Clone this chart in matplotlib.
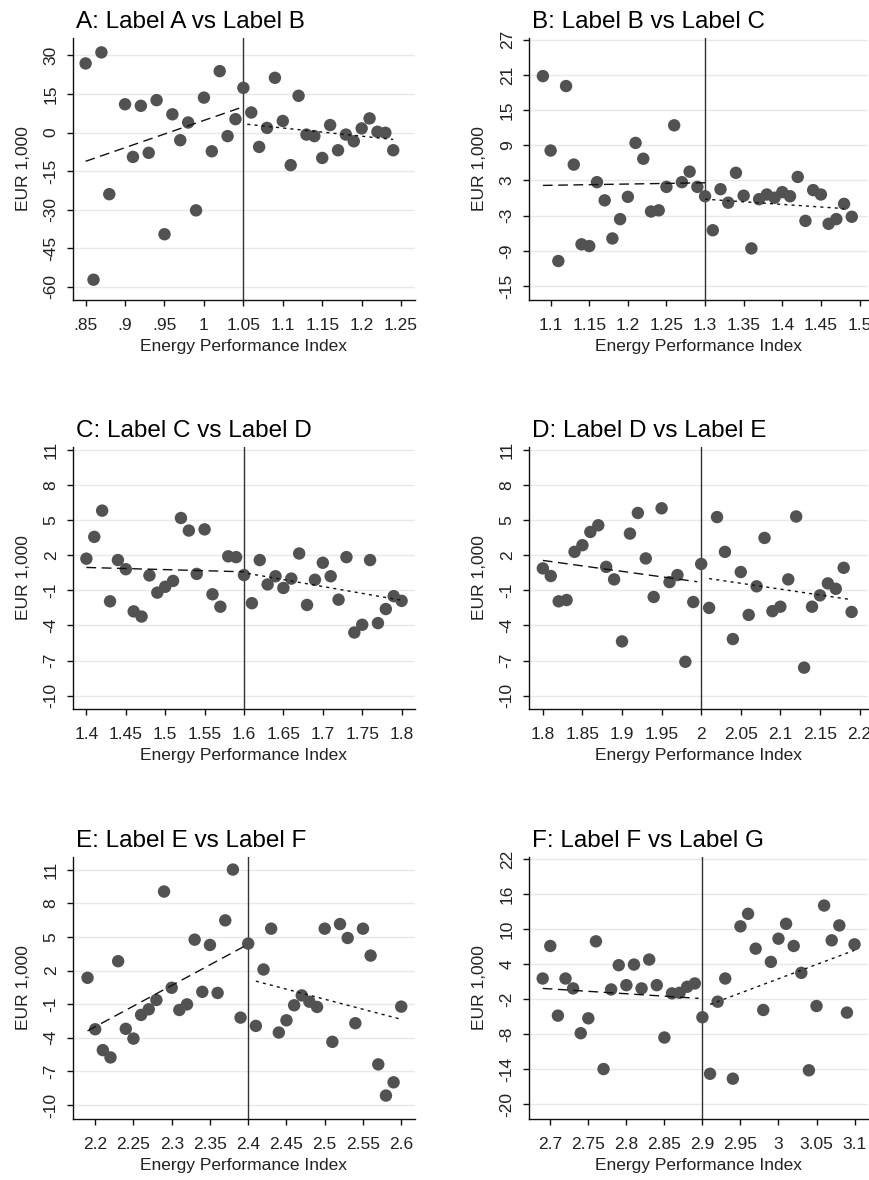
import numpy as np
import matplotlib
matplotlib.use("Agg")
import matplotlib.pyplot as plt

plt.rcParams['font.family'] = ['Liberation Sans', 'DejaVu Sans']

# ---------------- data ----------------
titles = ["A: Label A vs Label B", "B: Label B vs Label C", "C: Label C vs Label D",
          "D: Label D vs Label E", "E: Label E vs Label F", "F: Label F vs Label G"]
cutoffs = [1.05, 1.30, 1.60, 2.00, 2.40, 2.90]

# Panel A (no bin at 0.89)
xA = [0.85, 0.86, 0.87, 0.88, 0.90, 0.91, 0.92, 0.93, 0.94, 0.95, 0.96, 0.97, 0.98, 0.99,
      1.00, 1.01, 1.02, 1.03, 1.04, 1.05, 1.06, 1.07, 1.08, 1.09, 1.10, 1.11, 1.12, 1.13,
      1.14, 1.15, 1.16, 1.17, 1.18, 1.19, 1.20, 1.21, 1.22, 1.23, 1.24]
yA = [26.9, -57.3, 31.2, -24.0, 11.0, -9.5, 10.4, -7.9, 12.6, -39.6, 7.1, -3.0, 3.9, -30.3,
      13.6, -7.3, 23.9, -1.4, 5.2, 17.4, 7.8, -5.6, 1.8, 21.3, 4.5, -12.7, 14.3, -0.8,
      -1.4, -9.9, 2.9, -6.9, -0.8, -3.4, 1.6, 5.5, 0.3, -0.1, -6.9]

xB = [1.09, 1.10, 1.11, 1.12, 1.13, 1.14, 1.15, 1.16, 1.17, 1.18, 1.19, 1.20, 1.21, 1.22,
      1.23, 1.24, 1.25, 1.26, 1.27, 1.28, 1.29, 1.30, 1.31, 1.32, 1.33, 1.34, 1.35, 1.36,
      1.37, 1.38, 1.39, 1.40, 1.41, 1.42, 1.43, 1.44, 1.45, 1.46, 1.47, 1.48, 1.49]
yB = [20.8, 8.1, -10.75, 19.1, 5.7, -7.9, -8.2, 2.7, -0.4, -6.9, -3.6, 0.2, 9.4, 6.7,
      -2.3, -2.1, 1.9, 12.4, 2.7, 4.5, 1.9, 0.3, -5.5, 1.5, -0.8, 4.3, 0.4, -8.6,
      -0.2, 0.6, 0.05, 1.0, 0.3, 3.6, -3.9, 1.35, 0.6, -4.4, -3.6, -1.0, -3.2]

xC = [1.40, 1.41, 1.42, 1.43, 1.44, 1.45, 1.46, 1.47, 1.48, 1.49, 1.50, 1.51, 1.52, 1.53,
      1.54, 1.55, 1.56, 1.57, 1.58, 1.59, 1.60, 1.61, 1.62, 1.63, 1.64, 1.65, 1.66, 1.67,
      1.68, 1.69, 1.70, 1.71, 1.72, 1.73, 1.74, 1.75, 1.76, 1.77, 1.78, 1.79, 1.80]
yC = [1.7, 3.56, 5.8, -1.94, 1.58, 0.8, -2.8, -3.24, 0.27, -1.2, -0.7, -0.2, 5.17, 4.1,
      0.4, 4.2, -1.34, -2.4, 1.9, 1.83, 0.3, -2.1, 1.58, -0.5, 0.2, -0.8, 0.0, 2.14,
      -2.25, -0.1, 1.35, 0.2, -1.8, 1.83, -4.6, -3.94, 1.58, -3.8, -2.6, -1.5, -1.9]

xD = [1.80, 1.81, 1.82, 1.83, 1.84, 1.85, 1.86, 1.87, 1.88, 1.89, 1.90, 1.91, 1.92, 1.93,
      1.94, 1.95, 1.96, 1.97, 1.98, 1.99, 2.00, 2.01, 2.02, 2.03, 2.04, 2.05, 2.06, 2.07,
      2.08, 2.09, 2.10, 2.11, 2.12, 2.13, 2.14, 2.15, 2.16, 2.17, 2.18, 2.19]
yD = [0.87, 0.22, -1.94, -1.83, 2.28, 2.85, 3.98, 4.55, 1.0, -0.07, -5.36, 3.84, 5.6, 1.72,
      -1.57, 6.0, -0.3, 0.3, -7.1, -2.0, 1.25, -2.5, 5.25, 2.28, -5.16, 0.56, -3.1, -0.66,
      3.47, -2.78, -2.4, -0.07, 5.3, -7.6, -2.4, -1.43, -0.41, -0.87, 0.92, -2.85]

xE = [2.19, 2.20, 2.21, 2.22, 2.23, 2.24, 2.25, 2.26, 2.27, 2.28, 2.29, 2.30, 2.31, 2.32,
      2.33, 2.34, 2.35, 2.36, 2.37, 2.38, 2.39, 2.40, 2.41, 2.42, 2.43, 2.44, 2.45, 2.46,
      2.47, 2.48, 2.49, 2.50, 2.51, 2.52, 2.53, 2.54, 2.55, 2.56, 2.57, 2.58, 2.59, 2.60]
yE = [1.35, -3.24, -5.1, -5.75, 2.83, -3.2, -4.07, -1.96, -1.46, -0.63, 9.04, 0.46, -1.52, -1.02,
      4.75, 0.1, 4.28, 0.0, 6.47, 11.0, -2.2, 4.4, -2.94, 2.09, 5.73, -3.53, -2.44, -1.1,
      -0.22, -0.78, -1.25, 5.73, -4.36, 6.14, 4.9, -2.7, 5.73, 3.33, -6.37, -9.15, -7.97, -1.22]

xF = [2.69, 2.70, 2.71, 2.72, 2.73, 2.74, 2.75, 2.76, 2.77, 2.78, 2.79, 2.80, 2.81, 2.82,
      2.83, 2.84, 2.85, 2.86, 2.87, 2.88, 2.89, 2.90, 2.91, 2.92, 2.93, 2.94, 2.95, 2.96,
      2.97, 2.98, 2.99, 3.00, 3.01, 3.02, 3.03, 3.04, 3.05, 3.06, 3.07, 3.08, 3.09, 3.10]
yF = [1.55, 7.13, -4.82, 1.55, -0.15, -7.84, -5.28, 7.93, -13.99, -0.33, 3.83, 0.41, 3.94, -0.15,
      4.8, 0.41, -8.58, -1.0, -0.9, 0.13, 0.7, -5.1, -14.8, -2.43, 1.55, -15.64, 10.5, 12.65,
      6.67, -3.85, 4.4, 8.38, 10.94, 7.13, 2.52, -14.2, -3.17, 14.07, 8.1, 10.66, -4.3, 7.41]

# fitted lines (endpoints)
fit_left_x = [[0.85, 1.045], [1.09, 1.30], [1.40, 1.60], [1.80, 1.995], [2.19, 2.395], [2.69, 2.895]]
fit_left_y = [[-11.2, 9.5], [2.15, 2.6], [0.95, 0.58], [1.55, -0.27], [-3.38, 4.16], [-0.15, -1.86]]
fit_right_x = [[1.055, 1.24], [1.30, 1.48], [1.605, 1.80], [2.01, 2.19], [2.41, 2.60], [2.91, 3.10]]
fit_right_y = [[3.2, -2.7], [-0.2, -1.8], [0.44, -1.85], [0.0, -1.8], [1.05, -2.35], [-2.9, 6.4]]

xticks = [[0.85, 0.90, 0.95, 1.00, 1.05, 1.10, 1.15, 1.20, 1.25],
          [1.10, 1.15, 1.20, 1.25, 1.30, 1.35, 1.40, 1.45, 1.50],
          [1.40, 1.45, 1.50, 1.55, 1.60, 1.65, 1.70, 1.75, 1.80],
          [1.80, 1.85, 1.90, 1.95, 2.00, 2.05, 2.10, 2.15, 2.20],
          [2.20, 2.25, 2.30, 2.35, 2.40, 2.45, 2.50, 2.55, 2.60],
          [2.70, 2.75, 2.80, 2.85, 2.90, 2.95, 3.00, 3.05, 3.10]]
yticks = [[-60, -45, -30, -15, 0, 15, 30],
          [-15, -9, -3, 3, 9, 15, 21, 27],
          [-10, -7, -4, -1, 2, 5, 8, 11],
          [-10, -7, -4, -1, 2, 5, 8, 11],
          [-10, -7, -4, -1, 2, 5, 8, 11],
          [-20, -14, -8, -2, 4, 10, 16, 22]]
xlims = [(0.834, 1.2676), (1.072, 1.511), (1.383, 1.817), (1.7825, 2.2107), (2.171, 2.618), (2.672, 3.1177)]
ylims = [(-65.2, 36.8), (-17.4, 27.3), (-11.13, 11.23), (-11.13, 11.23), (-11.24, 12.12), (-22.56, 22.4)]

xs = [xA, xB, xC, xD, xE, xF]
ys = [yA, yB, yC, yD, yE, yF]

xlabel = "Energy Performance Index"
ylabel = "EUR 1,000"


def fmt_x(v):
    s = "%g" % round(v, 4)
    if s.startswith("0."):
        s = s[1:]
    return s


W, H = 870, 1180
fig = plt.figure(figsize=(W / 100, H / 100), dpi=100)

lefts = [73, 529]
tops = [38, 447, 857]
ax_h = 262

for i in range(6):
    col = i % 2
    row = i // 2
    l = lefts[col] / W
    b = 1 - (tops[row] + ax_h) / H
    ax = fig.add_axes([l, b, (342 if col == 0 else 339) / W, ax_h / H])

    ax.set_xlim(*xlims[i])
    ax.set_ylim(*ylims[i])
    ax.set_yticks(yticks[i])
    ax.set_xticks(xticks[i])
    ax.set_xticklabels([fmt_x(v) for v in xticks[i]])
    ax.set_yticklabels([str(v) for v in yticks[i]], rotation=90, va='center')

    ax.grid(axis='y', color='#e9e9e9', linewidth=1.0)
    ax.set_axisbelow(True)
    for s in ['top', 'right']:
        ax.spines[s].set_visible(False)
    for s in ['left', 'bottom']:
        ax.spines[s].set_color('#111111')
        ax.spines[s].set_linewidth(1.0)
    ax.tick_params(axis='both', direction='out', length=4.3, width=1.0, colors='#111111',
                   labelsize=12.5, labelcolor='#222222')
    ax.tick_params(axis='x', pad=9)
    ax.tick_params(axis='y', pad=6)

    ax.axvline(cutoffs[i], color='#333333', linewidth=1.0, zorder=2)
    ax.scatter(xs[i], ys[i], s=80, color='#525252', edgecolors='none', zorder=3)
    ax.plot(fit_left_x[i], fit_left_y[i], color='#111111', linewidth=1.0,
            dashes=(7, 4), zorder=4)
    ax.plot(fit_right_x[i], fit_right_y[i], color='#111111', linewidth=1.0,
            dashes=(2.2, 3), zorder=4)

    ax.set_title(titles[i], loc='left', fontsize=17.5, color='#000000', pad=7, x=0.01)
    ax.set_xlabel(xlabel, fontsize=12.5, color='#222222', labelpad=4)
    ax.set_ylabel(ylabel, fontsize=12.5, color='#222222', labelpad=9)

fig.savefig("out.png", dpi=100)
